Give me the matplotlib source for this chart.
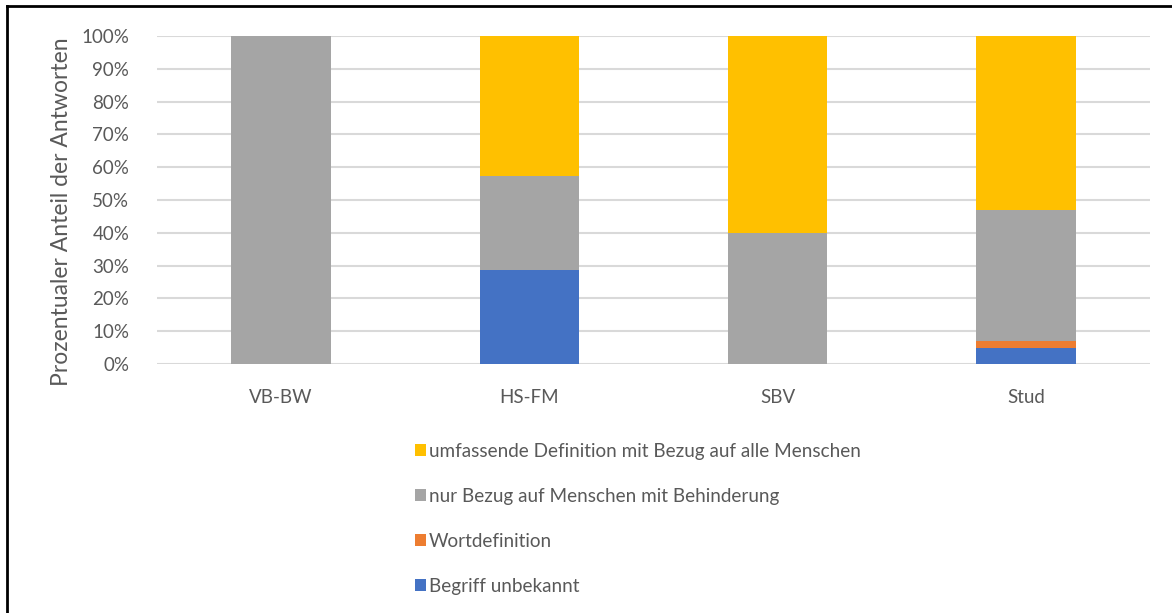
import matplotlib.pyplot as plt
from matplotlib.lines import Line2D
from matplotlib.ticker import PercentFormatter
import numpy as np

plt.rcParams["font.family"] = ["Lato", "DejaVu Sans"]

categories = ["VB-BW", "HS-FM", "SBV", "Stud"]
begriff_unbekannt = [0.0, 28.6, 0.0, 5.0]
wortdefinition = [0.0, 0.0, 0.0, 2.0]
nur_behinderung = [100.0, 28.6, 40.0, 40.0]
umfassend = [0.0, 42.8, 60.0, 53.0]

series_names = ["Begriff unbekannt", "Wortdefinition",
                "nur Bezug auf Menschen mit Behinderung",
                "umfassende Definition mit Bezug auf alle Menschen"]
series_colors = ["#4472C4", "#ED7D31", "#A5A5A5", "#FFC000"]
text_color = "#595959"

W, H = 1172, 613
fig = plt.figure(figsize=(W / 100, H / 100), dpi=100)
ax = fig.add_axes([157 / W, 1 - 364 / H, 993 / W, 328 / H])

x = np.arange(len(categories))
bottom = np.zeros(len(categories))
handles = []
for vals, name, col in zip([begriff_unbekannt, wortdefinition, nur_behinderung, umfassend],
                           series_names, series_colors):
    v = np.array(vals)
    b = ax.bar(x, v, 0.4, bottom=bottom, color=col, label=name, zorder=3)
    handles.append(b)
    bottom += v

ax.set_xlim(-0.5, 3.5)
ax.set_ylim(0, 100)
ax.set_yticks(np.arange(0, 101, 10))
ax.yaxis.set_major_formatter(PercentFormatter(decimals=0))
ax.set_xticks(x)
ax.set_xticklabels(categories)
ax.grid(axis="y", color="#D9D9D9", linewidth=1.5, zorder=0)
for s in ax.spines.values():
    s.set_visible(False)
ax.tick_params(length=0, labelsize=13.5, colors=text_color)
ax.tick_params(axis="y", pad=20)
ax.tick_params(axis="x", pad=18)

fig.text(62 / W, 1 - 212 / H, "Prozentualer Anteil der Antworten", rotation=90,
         ha="center", va="center", fontsize=16.5, color=text_color)

leg = fig.legend(handles[::-1], series_names[::-1], loc="upper left",
                 bbox_to_anchor=(398 / W, 1 - 426 / H), frameon=False,
                 fontsize=13.6, labelspacing=1.48, handlelength=0.6,
                 handleheight=0.6, handletextpad=0.15)
for t in leg.get_texts():
    t.set_color(text_color)

fig.add_artist(Line2D([7 / W, 1], [1 - 6 / H, 1 - 6 / H], color="black", linewidth=2,
                      transform=fig.transFigure))
fig.add_artist(Line2D([7 / W, 7 / W], [0, 1 - 6 / H], color="black", linewidth=2,
                      transform=fig.transFigure))

fig.savefig("out.png", dpi=100)
